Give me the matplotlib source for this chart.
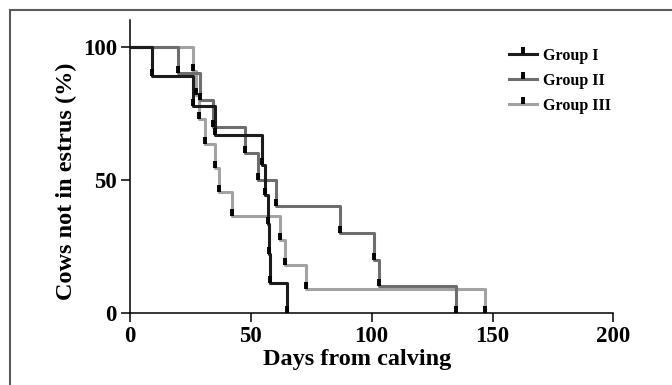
import numpy as np
import matplotlib
matplotlib.use("Agg")
import matplotlib.pyplot as plt
from matplotlib.path import Path
from matplotlib.lines import Line2D
from matplotlib.patches import Rectangle

# --- data (days from calving at each drop) ---
group_names = ["Group I", "Group II", "Group III"]

times_g1 = [9, 26, 35, 54.5, 56, 57, 57.5, 58, 65]
levels_g1 = [100, 88.9, 77.8, 66.7, 55.6, 44.4, 33.3, 22.2, 11.1, 0]

times_g2 = [20, 29, 34.5, 47.6, 53, 60.4, 87, 101, 103, 135]
levels_g2 = [100, 90, 80, 70, 60, 50, 40, 30, 20, 10, 0]

times_g3 = [26, 27.5, 28.5, 31, 35, 37, 42, 62, 64, 73, 147]
levels_g3 = [100, 90.9, 81.8, 72.7, 63.6, 54.5, 45.5, 36.4, 27.3, 18.2, 9.1, 0]

x_ticks = [0, 50, 100, 150, 200]
y_ticks = [0, 50, 100]

colors = ["#1c1c1c", "#6e6e6e", "#a3a3a3"]

plt.rcParams["font.family"] = ["Liberation Serif", "DejaVu Serif"]
plt.rcParams["font.weight"] = "bold"

fig = plt.figure(figsize=(6.72, 3.85), dpi=100)
ax = fig.add_axes([0.1935, 0.187, 0.7192, 0.761])

# small upright tick used as event mark (starts at the point, goes up)
tick_mark = Path([(0, 0), (0, 1)], [Path.MOVETO, Path.LINETO])

series = [(times_g1, levels_g1), (times_g2, levels_g2), (times_g3, levels_g3)]
# draw light groups first so the black one sits on top
for i in [2, 1, 0]:
    t, lv = series[i]
    xs = [0] + list(t)
    ax.step(xs, lv, where="post", color=colors[i], lw=2.2, zorder=2 + (2 - i))
for i in [2, 1, 0]:
    t, lv = series[i]
    ax.plot(t, lv[1:], linestyle="none", marker=tick_mark, markersize=10,
            markeredgewidth=2.8, color="black", zorder=6)

ax.set_xlim(0, 200)
ax.set_ylim(0, 110)
ax.set_xticks(x_ticks)
ax.set_yticks(y_ticks)
for s in ["top", "right"]:
    ax.spines[s].set_visible(False)
for s in ["left", "bottom"]:
    ax.spines[s].set_linewidth(1.1)
ax.tick_params(direction="out", length=6.5, width=1.1, labelsize=16.5, pad=3)
for lab in ax.get_xticklabels() + ax.get_yticklabels():
    lab.set_fontweight("bold")

ax.set_xlabel("Days from calving", fontsize=17.5, fontweight="bold")
ax.set_ylabel("Cows not in estrus (%)", fontsize=17.5, fontweight="bold")
ax.xaxis.set_label_coords((357 - 130) / 483, -0.123)
ax.yaxis.set_label_coords(-0.11, 0.45)

handles = [Line2D([0], [0], color=c, lw=2.2, marker=tick_mark, markersize=10,
                  markeredgewidth=2.8, markeredgecolor="black") for c in colors]
leg = ax.legend(handles, group_names, loc="upper left",
                bbox_to_anchor=(509 / 672, 1 - 48 / 385), bbox_transform=fig.transFigure,
                frameon=False, fontsize=11.5, handlelength=1.75, handletextpad=0.4,
                labelspacing=0.55, numpoints=1, borderaxespad=0, borderpad=0)
for txt in leg.get_texts():
    txt.set_fontweight("bold")

# gray frame around the figure (open at right/bottom edges like the reference)
fig.patches.append(Rectangle((10 / 672, -0.1), 1.2, 1 - 10 / 385 + 0.1,
                             transform=fig.transFigure, fill=False,
                             edgecolor="#5a5a5a", lw=1.5, clip_on=False))

fig.savefig("out.png", dpi=100)
